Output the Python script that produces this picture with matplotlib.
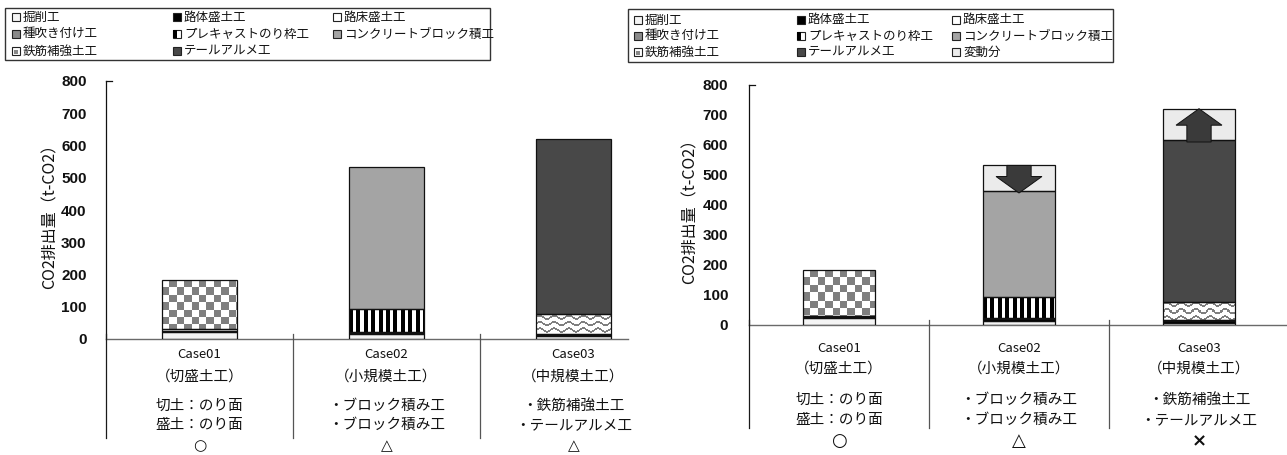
import numpy as np
import matplotlib
matplotlib.use("Agg")
import matplotlib.pyplot as plt
from matplotlib.patches import Rectangle, FancyArrow
from matplotlib.transforms import blended_transform_factory

plt.rcParams['font.family'] = ['Noto Sans CJK JP', 'DejaVu Sans']

# ---------------------------------------------------------------- data
cases = ['Case01', 'Case02', 'Case03']
case_types = ['（切盛土工）', '（小規模土工）', '（中規模土工）']
desc_line1 = ['切土：のり面', '・ブロック積み工', '・鉄筋補強土工']
desc_line2 = ['盛土：のり面', '・ブロック積み工', '・テールアルメ工']
marks_left = ['○', '△', '△']
marks_right = ['○', '△', '×']

series_names = ['掘削工', '路体盛土工', '路床盛土工', '種吹き付け工',
                'プレキャストのり枠工', 'コンクリートブロック積工',
                '鉄筋補強土工', 'テールアルメ工', '変動分']

# CO2 emissions (t-CO2) per case
kussaku = [22, 15, 8]
rotai = [4, 4, 5]
roshou = [5, 4, 4]
tanefuki = [151, 0, 0]
precast = [0, 70, 0]
block = [0, 439, 0]
tekkin = [0, 0, 61]
terre = [0, 0, 541]

# fixed part and variation range (right chart)
block_fixed = [0, 354, 0]
terre_fixed = [0, 0, 539]
variation = [0, 85, 104]
variation_dir = ['', 'down', 'up']

yticks = [0, 100, 200, 300, 400, 500, 600, 700, 800]

# ---------------------------------------------------------------- styles
W, H = 1287, 455
GRAY_PAT = np.array([0.50, 0.50, 0.50])
styles = {
    '掘削工': dict(fc='#f4f4f4', pat=None),
    '路体盛土工': dict(fc='#000000', pat=None),
    '路床盛土工': dict(fc='#ffffff', pat=None),
    '種吹き付け工': dict(fc='#ffffff', pat='checker'),
    'プレキャストのり枠工': dict(fc='#ffffff', pat='vstripe'),
    'コンクリートブロック積工': dict(fc='#a4a4a4', pat=None),
    '鉄筋補強土工': dict(fc='#ffffff', pat='wave'),
    'テールアルメ工': dict(fc='#484848', pat=None),
    '変動分': dict(fc='#ebebeb', pat=None),
}


def fx(px):
    return px / W


def fy(py):
    return 1 - py / H


def pattern_image(kind, w, h):
    yy, xx = np.mgrid[0:h, 0:w] + 0.5
    if kind == 'checker':
        cell = 7.4
        mask = ((np.floor(xx / cell) + np.floor(yy / cell)) % 2) == 1
        fg = GRAY_PAT
    elif kind == 'vstripe':
        mask = (xx % 7.4) < 3.9
        fg = np.array([0.0, 0.0, 0.0])
    else:  # wave
        period = 6.4
        yw = yy + 1.7 * np.sin(2 * np.pi * xx / 14.6)
        d = np.abs((yw % period) - period / 2)
        mask = d < 1.0
        fg = GRAY_PAT
    img = np.ones((h, w, 3))
    img[mask] = fg
    return img


def draw_segment(ax, x, bottom, height, name, width=0.4):
    st = styles[name]
    bars = ax.bar([x], [height], bottom=[bottom], width=width,
                  color=st['fc'], edgecolor='none', zorder=2)
    patch = bars.patches[0]
    if st['pat'] is not None:
        x0, y0 = patch.get_x(), patch.get_y()
        x1, y1 = x0 + patch.get_width(), y0 + patch.get_height()
        p0 = ax.transData.transform((x0, y0))
        p1 = ax.transData.transform((x1, y1))
        wpx = max(int(round(abs(p1[0] - p0[0]))), 1)
        hpx = max(int(round(abs(p1[1] - p0[1]))), 1)
        im = ax.imshow(pattern_image(st['pat'], wpx, hpx),
                       extent=(x0, x1, y0, y1), origin='upper',
                       aspect='auto', interpolation='nearest', zorder=2.2)
        im.set_clip_path(patch)
    ax.bar([x], [height], bottom=[bottom], width=width, fill=False,
           edgecolor='#111111', linewidth=0.9, zorder=3)


def stack(ax, layers):
    x = np.arange(len(cases))
    tops = []
    for i in range(len(cases)):
        b = 0
        for name, vals in layers:
            v = vals[i]
            if v > 0:
                draw_segment(ax, x[i], b, v, name)
                b += v
        tops.append(b)
    return tops


def setup_axes(ax, xlim_right, pad):
    ax.set_xlim(-0.5, xlim_right)
    ax.set_ylim(0, 800)
    ax.set_autoscale_on(False)
    ax.set_xticks([])
    ax.set_yticks(yticks)
    ax.set_yticklabels([str(t) for t in yticks], family='Liberation Sans',
                       fontsize=11, fontweight='bold', color='#111111')
    ax.tick_params(axis='y', length=0, pad=pad)
    for s in ('top', 'right'):
        ax.spines[s].set_visible(False)
    ax.spines['left'].set_color('#111111')
    ax.spines['left'].set_linewidth(0.9)
    ax.spines['bottom'].set_color('#6a6a6a')
    ax.spines['bottom'].set_linewidth(1.0)
    ax.patch.set_alpha(0)


def category_area(ax, fig, axis_y_px, line_bottom_px, rows_px, marks,
                  mark_y_px, mark_size):
    tr = blended_transform_factory(ax.transData, fig.transFigure)
    n = len(cases)
    top_frac = fy(axis_y_px - 5)
    for xb in np.arange(n) - 0.5:
        if xb > ax.get_xlim()[1]:
            continue
        ax.plot([xb, xb], [top_frac, fy(line_bottom_px)], transform=tr,
                color='#1a1a1a' if xb < 0 else '#555555', lw=0.9,
                clip_on=False, zorder=4)
    # short cap at the top of the value axis
    cap = ax.transData.inverted().transform(
        ax.transData.transform((-0.5, 800)) + np.array([6, 0]))[0]
    ax.plot([-0.5, cap], [800, 800], color='#111111', lw=0.9,
            clip_on=False, zorder=4)
    texts = [cases, case_types, desc_line1, desc_line2]
    sizes = [9.5, 10.5, 10.5, 10.5]
    for row, size, ypx in zip(texts, sizes, rows_px):
        for i, t in enumerate(row):
            ax.text(i, fy(ypx), t, transform=tr, ha='center', va='center',
                    fontsize=size, color='#111111')
    for i, m in enumerate(marks):
        ax.text(i, fy(mark_y_px), m, transform=tr, ha='center',
                va='center', fontsize=mark_size, color='#111111',
                family=['DejaVu Sans'], fontweight='bold')


def legend_box(fig, box, cols, rows, names):
    x0, y0, x1, y1 = box
    fig.patches.append(Rectangle((fx(x0), fy(y1)), fx(x1) - fx(x0),
                                 fy(y0) - fy(y1), transform=fig.transFigure,
                                 fill=False, edgecolor='#333333', lw=1.0))
    s = 8
    for k, name in enumerate(names):
        r, c = divmod(k, 3)
        mx, my = cols[c], rows[r]
        st = styles[name]
        fc = st['fc']
        if st['pat'] == 'checker':
            fc = '#8a8a8a'
        kw = dict(transform=fig.transFigure, lw=0.8, edgecolor='#222222')
        fig.patches.append(Rectangle((fx(mx), fy(my + s / 2)), s / W, s / H,
                                     facecolor=fc, **kw))
        if st['pat'] == 'vstripe':
            fig.patches.append(Rectangle((fx(mx), fy(my + s / 2)), s / 2 / W,
                                         s / H, facecolor='black',
                                         transform=fig.transFigure, lw=0))
        if st['pat'] == 'wave':
            fig.patches.append(Rectangle((fx(mx + 1.5), fy(my + 2.5)),
                                         4 / W, 4 / H, facecolor='#888888',
                                         transform=fig.transFigure, lw=0))
        fig.text(fx(mx + s + 3), fy(my), name, ha='left', va='center',
                 fontsize=9, color='#111111')


fig = plt.figure(figsize=(W / 100, H / 100), dpi=100)

# ---------------------------------------------------------------- left chart
axL = fig.add_axes([fx(106), fy(339), (628 - 106) / W, (339 - 81) / H])
setup_axes(axL, -0.5 + (628 - 106) / 187, pad=14)
stack(axL, [('掘削工', kussaku), ('路体盛土工', rotai), ('路床盛土工', roshou),
            ('種吹き付け工', tanefuki), ('プレキャストのり枠工', precast),
            ('コンクリートブロック積工', block), ('鉄筋補強土工', tekkin),
            ('テールアルメ工', terre)])
category_area(axL, fig, 339, 438, [355, 377, 406, 425], marks_left, 446, 11)
fig.text(fx(50), fy(212), 'CO2排出量（t-CO2）', rotation=90, ha='center',
         va='center', fontsize=11.5, color='#111111')
legend_box(fig, (5, 8, 490, 60), [12, 173, 333], [17, 34, 51],
           series_names[:8])

# ---------------------------------------------------------------- right chart
axR = fig.add_axes([fx(749), fy(325), (W - 749) / W, (325 - 85) / H])
setup_axes(axR, -0.5 + (W - 749) / 180, pad=15)
tops = stack(axR, [('掘削工', kussaku), ('路体盛土工', rotai), ('路床盛土工', roshou),
                   ('種吹き付け工', tanefuki), ('プレキャストのり枠工', precast),
                   ('コンクリートブロック積工', block_fixed),
                   ('鉄筋補強土工', tekkin), ('テールアルメ工', terre_fixed)])
for i, v in enumerate(variation):
    if v <= 0:
        continue
    draw_segment(axR, i, tops[i], v, '変動分')
    over = 7
    head = 55
    if variation_dir[i] == 'down':
        start, length = tops[i] + v, -(v + over)
    else:
        start, length = tops[i] - over, v + over
    axR.add_patch(FancyArrow(i, start, 0, length, width=0.135,
                             head_width=0.255, head_length=head,
                             length_includes_head=True, facecolor='#3a3a3a',
                             edgecolor='#111111', linewidth=0.7, zorder=5))
category_area(axR, fig, 325, 428, [348, 369, 400, 420], marks_right, 441, 13)
fig.text(fx(690), fy(207), 'CO2排出量（t-CO2）', rotation=90, ha='center',
         va='center', fontsize=11.5, color='#111111')
legend_box(fig, (628, 9, 1113, 62), [634, 797, 952], [20, 36, 52],
           series_names)

fig.savefig('out.png', dpi=100)
